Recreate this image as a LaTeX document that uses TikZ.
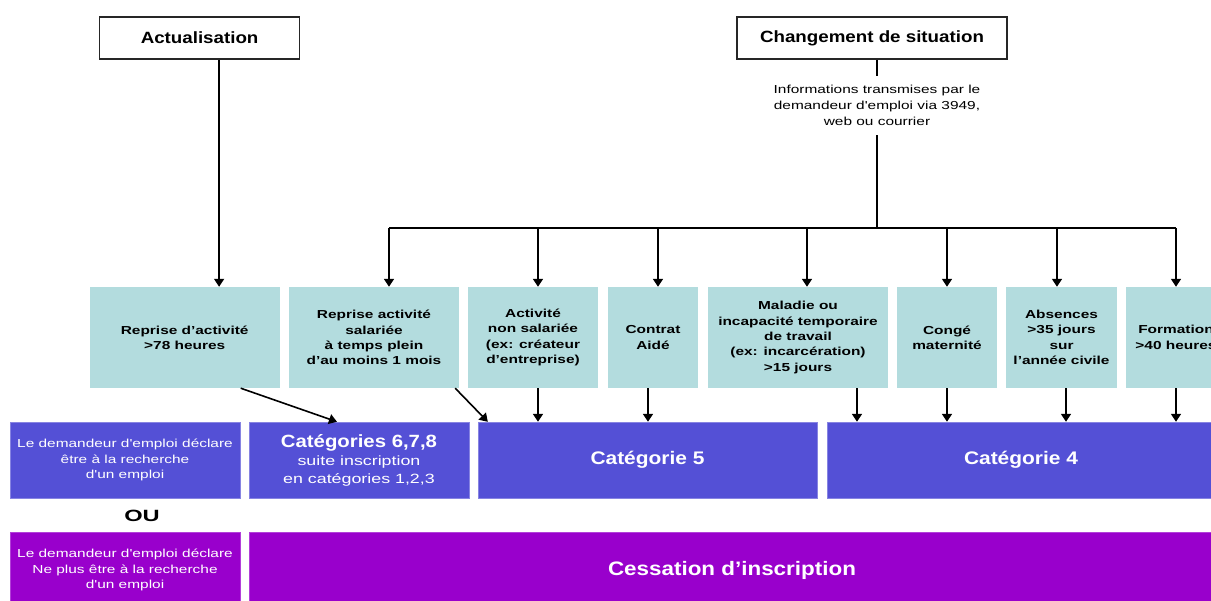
\documentclass[tikz,border=0pt]{standalone}
\usepackage{fontspec}
\setmainfont{Liberation Sans}
\newfontfamily\petite[FakeStretch=1.33]{Liberation Sans}
\newfontfamily\grande[FakeStretch=1.15]{Liberation Sans}
\newfontfamily\fontou[FakeStretch=1.45]{Liberation Sans}
\usepackage{tikz}
\usetikzlibrary{arrows.meta, positioning}
\definecolor{cyanpale}{HTML}{B3DCDE}
\definecolor{bleucat}{HTML}{5450D6}
\definecolor{violetcat}{HTML}{9900CC}
\tikzset{
  entete/.style={draw=black!85, line width=1.4pt, fill=white, minimum height=42pt,
    inner sep=0pt, font=\grande\bfseries\fontsize{16.3}{19}\selectfont},
  situation/.style={fill=cyanpale, minimum height=101pt, inner sep=0pt, align=center,
    font=\petite\bfseries\fontsize{11.6}{15.3}\selectfont},
  categorie/.style={fill=bleucat, draw=bleucat!70!white, minimum height=76pt, inner sep=0pt,
    align=center, text=white, font=\petite\fontsize{11.6}{15.7}\selectfont},
  cessation/.style={categorie, fill=violetcat, draw=violetcat!75!white},
  fleche/.style={line width=1.6pt, -{Triangle[width=10pt,length=8pt]}},
  lien/.style={line width=1.6pt}
}
\begin{document}
\begin{tikzpicture}[x=1pt, y=-1pt]
\clip (0,0) rectangle (1211,601);
% en-tetes
\node[entete, minimum width=200pt] (act) at (199.6,38) {Actualisation};
\node[entete, minimum width=270pt] (chg) at (872,38) {Changement de situation};
\node[align=center, inner sep=0pt, minimum height=59pt,
  font=\petite\fontsize{11.6}{15.8}\selectfont] (info) at (877,105.5)
  {Informations transmises par le\\demandeur d'emploi via 3949,\\web ou courrier};
\coordinate (bus) at (877,228);

% situations
\node[situation, minimum width=190pt] (rda) at (184.7,337.5) {Reprise d’activité\\>78 heures};
\node[situation, minimum width=170pt] (rsal) at (374,337.5) {Reprise activité\\salariée\\à temps plein\\d’au moins 1 mois};
\node[situation, minimum width=130pt] (ans) at (533,337.5) {Activité\\non salariée\\(ex: créateur\\d’entreprise)};
\node[situation, minimum width=90pt] (ca) at (653,337.5) {Contrat\\Aidé};
\node[situation, minimum width=180pt] (mal) at (798,337.5) {Maladie ou\\incapacité temporaire\\de travail\\(ex: incarcération)\\>15 jours};
\node[situation, minimum width=100pt] (cm) at (947,337.5) {Congé\\maternité};
\node[situation, minimum width=111pt] (abs) at (1061.5,337.5) {Absences\\>35 jours\\sur\\l’année civile};
\node[situation, minimum width=100pt] (form) at (1176,337.5) {Formation\\>40 heures};

% categories
\node[categorie, minimum width=230pt] (dem) at (125,460) {Le demandeur d'emploi déclare\\être à la recherche\\d'un emploi};
\node[categorie, minimum width=220pt, font=\petite\fontsize{13.4}{18}\selectfont] (cat678) at (359,460)
  {{\grande\bfseries\fontsize{17.7}{20}\selectfont Catégories 6,7,8}\\suite inscription\\en catégories 1,2,3};
\node[categorie, minimum width=339pt, font=\grande\bfseries\fontsize{18.2}{21}\selectfont] (cat5) at (647.5,460) {Catégorie 5};
\node[categorie, minimum width=388pt, font=\grande\bfseries\fontsize{18.2}{21}\selectfont] (cat4) at (1021,460) {Catégorie 4};
\node[font=\fontou\bfseries\fontsize{16.3}{19}\selectfont, inner sep=0pt] (ou) at (142,516) {OU};
\node[cessation, minimum width=230pt] (nonrech) at (125,570) {Le demandeur d'emploi déclare\\Ne plus être à la recherche\\d'un emploi};
\node[cessation, minimum width=966pt, font=\grande\bfseries\fontsize{19.5}{22}\selectfont] (cess) at (732,570) {Cessation d’inscription};

% connecteurs du haut
\draw[fleche] ([xshift=19.5pt]act.south) -- ([xshift=19.5pt]act.south |- rda.north);
\draw[lien] (info.north |- chg.south) -- (info.north);
\draw[lien] (info.south) -- (bus);
\draw[lien] ([xshift=15pt]rsal.north |- bus) -- (form.north |- bus);
\foreach \n/\dx in {rsal/15, ans/5, ca/5, mal/9, cm/0, abs/-4.5, form/0}
  \draw[fleche] ([xshift=\dx pt]\n.north |- bus) -- ([xshift=\dx pt]\n.north);

% connecteurs vers les categories
\draw[fleche] ([xshift=56pt]rda.south) -- ([xshift=-22pt]cat678.north);
\draw[fleche] ([xshift=-4pt]rsal.south east) -- ([xshift=10pt]cat5.north west);
\foreach \n/\dx/\c in {ans/5/cat5, ca/-5/cat5, mal/59/cat4, cm/0/cat4, abs/4.5/cat4, form/0/cat4}
  \draw[fleche] ([xshift=\dx pt]\n.south) -- ([xshift=\dx pt]\n.south |- \c.north);
\end{tikzpicture}
\end{document}
